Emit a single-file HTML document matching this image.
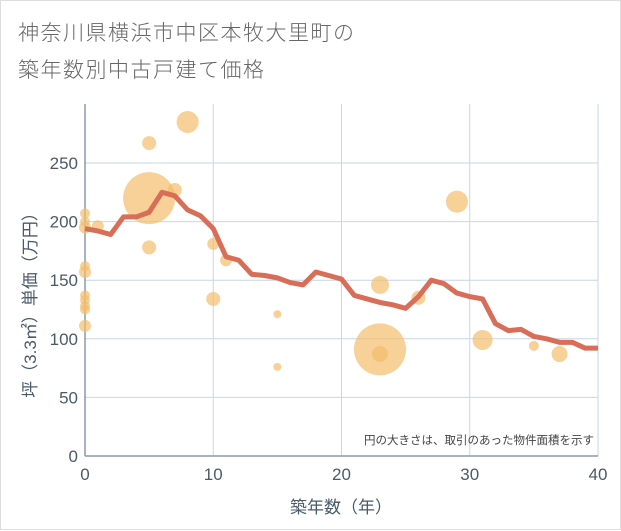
<!DOCTYPE html>
<html><head><meta charset="utf-8"><style>
body{margin:0;background:#fff;}
#wrap{position:relative;width:619px;height:528px;border:1px solid #ddd;background:#fff;font-family:"Liberation Sans","Noto Sans CJK JP",sans-serif;}
.title{position:absolute;left:17px;font-size:21px;color:#666;letter-spacing:1.5px;font-weight:300;}
svg{position:absolute;left:0;top:0;}
</style></head><body>
<div id="wrap">
<div class="title" style="top:16px">神奈川県横浜市中区本牧大里町の</div>
<div class="title" style="top:53px">築年数別中古戸建て価格</div>
<svg id="chart" width="621" height="530"></svg>
</div>
<script>
const xTicks=[0,10,20,30,40];
const yTicks=[0,50,100,150,200,250];
const lineYears=[0,1,2,3,4,5,6,7,8,9,10,11,12,13,14,15,16,17,18,19,20,21,22,23,24,25,26,27,28,29,30,31,32,33,34,35,36,37,38,39,40];
const lineValues=[194,192,189,204,204,208,225,222,210,205,194,170,167,155,154,152,148,146,157,154,151,137,134,131,129,126,136,150,147,139,136,134,113,107,108,102,100,97,97,92,92];
const bubbleX=[0,0,0,0,0,0,0,0,0,0,1,5,5,5,7,8,10,10,11,15,15,23,23,23,26,29,31,35,37];
const bubbleY=[207,200,195,162,157,137,133,128,125,111,196,267,220,178,227,285,181,134,167,121,76,146,91,87,135,217,99,94,87];
const bubbleR=[5,5,6,5,6,5,5,5,5,6,6,7,26,7,7,11,6,7,6,4,4,9,26,8,7,11,10,5,8];
const NS="http://www.w3.org/2000/svg";
const svg=document.getElementById('chart');
const X0=84,X1=597,Y0=455,Y1=103;
const xs=v=>X0+(v/40)*(X1-X0);
const ys=v=>Y0-v*1.172;
function mk(t,a){const e=document.createElementNS(NS,t);for(const k in a)e.setAttribute(k,a[k]);svg.appendChild(e);return e;}
const bg=mk('rect',{x:X0,y:Y1,width:X1-X0,height:Y0-Y1,fill:'#fff'});


xTicks.forEach(t=>{const l=mk('line',{x1:xs(t),x2:xs(t),y1:Y1,y2:Y0,stroke:'#c8d6e5','stroke-width':1});


const tx=mk('text',{x:xs(t),y:479,'text-anchor':'middle','font-size':17,fill:'#4a5a6a'});tx.textContent=t;

});
yTicks.forEach(t=>{const l=mk('line',{x1:X0,x2:X1,y1:ys(t),y2:ys(t),stroke:'#c8d6e5','stroke-width':1});


const tx=mk('text',{x:77,y:ys(t)+6,'text-anchor':'end','font-size':17,fill:'#4a5a6a'});tx.textContent=t;

});
const ax=mk('line',{x1:X0,x2:X0,y1:Y1,y2:Y0,stroke:'#8a9aaa','stroke-width':1.5});


const ax2=mk('line',{x1:X0,x2:X1,y1:Y0,y2:Y0,stroke:'#8a9aaa','stroke-width':1.5});


bubbleX.forEach((v,i)=>{const c=mk('circle',{cx:xs(v),cy:ys(bubbleY[i]),r:bubbleR[i],fill:'#f3bd6b','fill-opacity':0.7});

});
const pts=lineYears.map((v,i)=>xs(v)+','+ys(lineValues[i])).join(' ');
const pl=mk('polyline',{points:pts,fill:'none',stroke:'#d86e58','stroke-width':5,'stroke-linejoin':'round'});


const note=mk('text',{x:593,y:443,'text-anchor':'end','font-size':11.5,fill:'#444'});note.textContent='円の大きさは、取引のあった物件面積を示す';


const xt=mk('text',{x:340,y:512,'text-anchor':'middle','font-size':17,fill:'#4a5a6a'});xt.textContent='築年数（年）';


const yt=mk('text',{x:0,y:0,'text-anchor':'middle','font-size':17,fill:'#4a5a6a',transform:'translate(35,300) rotate(-90)'});yt.textContent='坪（3.3㎡）単価（万円）';


</script>
</body></html>
